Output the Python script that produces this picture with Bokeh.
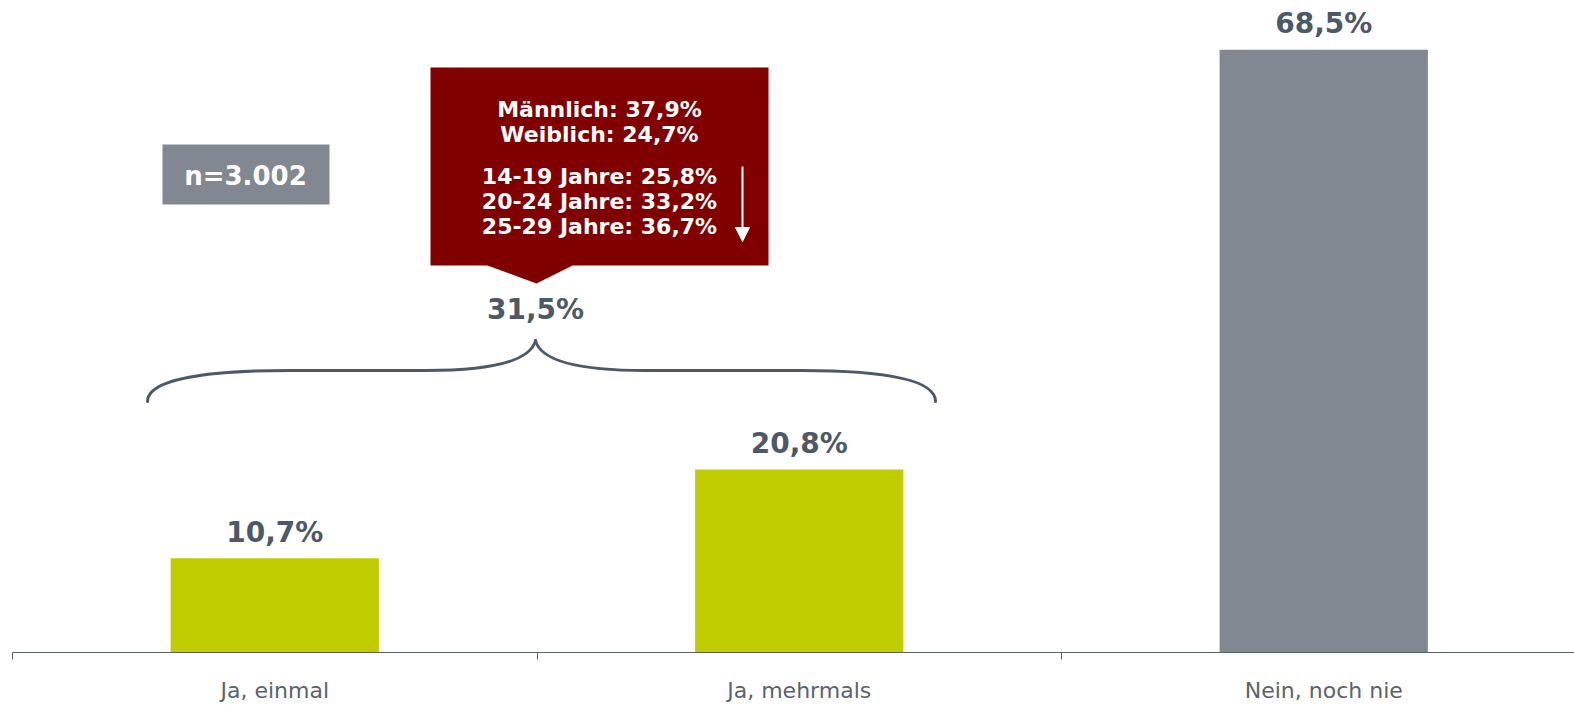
from bokeh.plotting import figure
from bokeh.models import Range1d, FixedTicker, CustomJSTickFormatter, Arrow, NormalHead
from bokeh.core.properties import value
from bokeh.embed import file_html
from bokeh.resources import INLINE

# ---- data ----
categories = ["Ja, einmal", "Ja, mehrmals", "Nein, noch nie"]
values = [10.7, 20.8, 68.5]
value_labels = ["10,7%", "20,8%", "68,5%"]
bar_colors = ["#bfcd00", "#bfcd00", "#818891"]
combined_label = "31,5%"
gender_lines = ["Männlich: 37,9%", "Weiblich: 24,7%"]
age_lines = ["14-19 Jahre: 25,8%", "20-24 Jahre: 33,2%", "25-29 Jahre: 36,7%"]
sample_label = "n=3.002"

FONT = "DejaVu Sans"
TEXT_DARK = "#4d5966"
AXIS_COL = "#59636e"
RED = "#800000"
GRAY = "#818891"

# ---- layout ----
W, H = 1574, 705
LEFT, BOTTOM = 12, 53
frame_w = W - LEFT
frame_h = H - BOTTOM
cat_px = 524.5          # pixels per category
ppu = 8.8               # pixels per percent
x_end = frame_w / cat_px
y_end = frame_h / ppu

def px(xp):  # page x -> data x
    return (xp - LEFT) / cat_px

def py(yp):  # page y -> data y
    return (frame_h - yp) / ppu

p = figure(width=W, height=H, x_range=Range1d(0, x_end), y_range=Range1d(0, y_end),
           output_backend="svg", toolbar_location=None, y_axis_location=None,
           min_border_left=LEFT, min_border_right=0, min_border_top=0, min_border_bottom=BOTTOM)
p.outline_line_color = None
p.grid.visible = False
p.background_fill_color = "white"

xs = [i + 0.5 for i in range(len(categories))]
p.vbar(x=xs, top=values, width=0.397, color=bar_colors, line_color=None)

p.text(x=xs, y=values, text=value_labels, text_align="center", text_baseline="middle",
       y_offset=-26, text_font=value(FONT), text_font_style="bold",
       text_font_size="28px", text_color=TEXT_DARK)

ax = p.xaxis[0]
ax.ticker = FixedTicker(ticks=xs, minor_ticks=list(range(len(categories) + 1)))
ax.formatter = CustomJSTickFormatter(args=dict(names=categories),
                                     code="return names[Math.floor(tick)] ?? '';")
ax.axis_line_color = AXIS_COL
ax.major_tick_line_color = None
ax.major_tick_out = 0
ax.major_tick_in = 0
ax.minor_tick_line_color = AXIS_COL
ax.minor_tick_out = 7
ax.minor_tick_in = 0
ax.major_label_text_font = FONT
ax.major_label_text_font_size = "22px"
ax.major_label_text_color = AXIS_COL
ax.major_label_standoff = 18

# ---- brace over the two "Ja" bars ----
segs = [
    [(147, 401), (147, 378), (210, 370), (290, 370)],
    [(425, 370), (495, 370), (530, 360), (535, 340)],
    [(535, 340), (540, 360), (575, 370), (645, 370)],
    [(800, 370), (880, 370), (935, 378), (935, 401)],
]
p.bezier(x0=[px(s[0][0]) for s in segs], y0=[py(s[0][1]) for s in segs],
         cx0=[px(s[1][0]) for s in segs], cy0=[py(s[1][1]) for s in segs],
         cx1=[px(s[2][0]) for s in segs], cy1=[py(s[2][1]) for s in segs],
         x1=[px(s[3][0]) for s in segs], y1=[py(s[3][1]) for s in segs],
         line_color=TEXT_DARK, line_width=3, line_cap="round")
p.segment(x0=[px(290), px(645)], y0=[py(370), py(370)], x1=[px(425), px(800)], y1=[py(370), py(370)],
          line_color=TEXT_DARK, line_width=3, line_cap="round")
p.text(x=[px(535)], y=[py(309)], text=[combined_label], text_align="center", text_baseline="middle",
       text_font=value(FONT), text_font_style="bold", text_font_size="28px", text_color=TEXT_DARK)

# ---- callout box ----
bx = [430, 768, 768, 572, 536, 487, 430]
by = [67, 67, 265, 265, 283, 265, 265]
p.patch(x=[px(v) for v in bx], y=[py(v) for v in by], fill_color=RED, line_color=None)
p.text(x=[px(599)] * 2, y=[py(109), py(134)], text=gender_lines, text_align="center",
       text_baseline="middle", text_font=value(FONT), text_font_style="bold",
       text_font_size="22px", text_color="white")
p.text(x=[px(599)] * 3, y=[py(176), py(201), py(226)], text=age_lines, text_align="center",
       text_baseline="middle", text_font=value(FONT), text_font_style="bold",
       text_font_size="22px", text_color="white")
p.add_layout(Arrow(end=NormalHead(size=14, fill_color="white", line_color="white"),
                   x_start=px(742), y_start=py(166), x_end=px(742), y_end=py(241),
                   line_color="white", line_width=2))

# ---- sample size box ----
p.quad(left=[px(162)], right=[px(329)], top=[py(144)], bottom=[py(204)],
       fill_color=GRAY, line_color=None)
p.text(x=[px(245)], y=[py(175)], text=[sample_label], text_align="center", text_baseline="middle",
       text_font=value(FONT), text_font_style="bold", text_font_size="26px", text_color="white")

open("out.html", "w").write(file_html(p, INLINE))
